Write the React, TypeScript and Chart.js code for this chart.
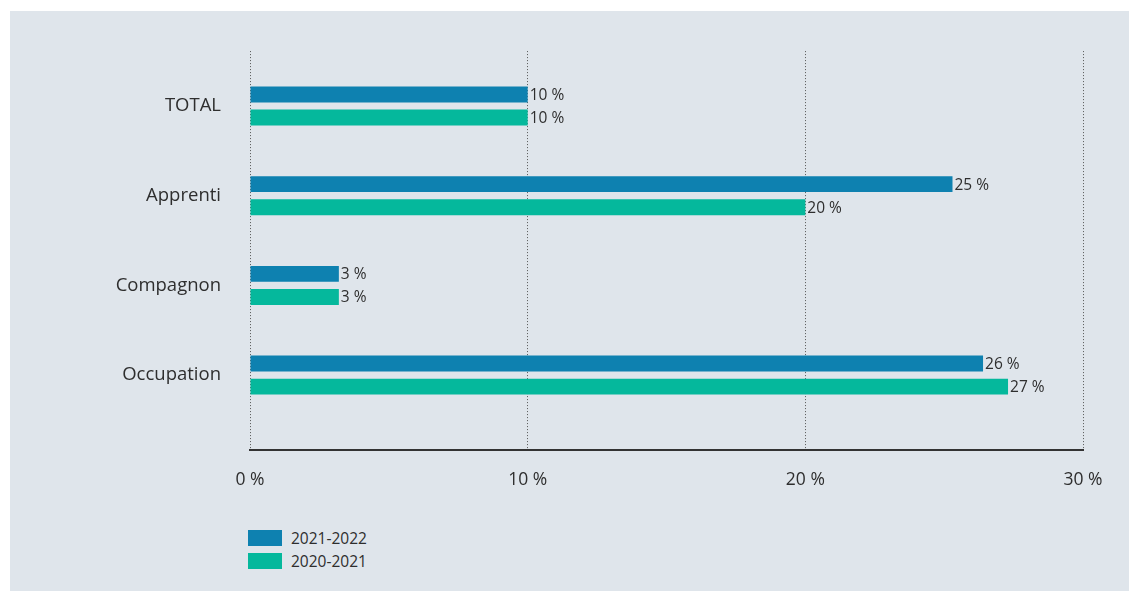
import React, { useEffect, useRef } from 'react'
import { Chart, registerables } from 'chart.js'

Chart.register(...registerables)

const categories = ['TOTAL', 'Apprenti', 'Compagnon', 'Occupation']
const seriesNames = ['2021-2022', '2020-2021']
const values2122 = [10, 25.3, 3.2, 26.4]
const values2021 = [10, 20, 3.2, 27.3]
const seriesColors = ['#0e81b0', '#05b89c']
const xTicks = [0, 10, 20, 30]

const textColor = '#2e2e2e'
const fontFamily = '"Open Sans", Roboto, sans-serif'

const valueLabels = {
  id: 'valueLabels',
  afterDatasetsDraw(chart: Chart) {
    const ctx = chart.ctx
    ctx.save()
    ctx.font = `15.5px ${fontFamily}`
    ctx.fillStyle = textColor
    ctx.textAlign = 'left'
    ctx.textBaseline = 'middle'
    chart.data.datasets.forEach((ds, di) => {
      const meta = chart.getDatasetMeta(di)
      meta.data.forEach((bar: any, i) => {
        const v = (ds.data[i] as any).x
        ctx.fillText(`${Math.round(v)} %`, bar.x + 2, bar.y + 1)
      })
    })
    ctx.restore()
  },
}

const App: React.FC = () => {
  const chartRef = useRef<HTMLCanvasElement | null>(null)

  useEffect(() => {
    if (!chartRef.current) return

    const chart = new Chart(chartRef.current, {
      type: 'bar',
      data: {
        datasets: [values2122, values2021].map((vals, s) => ({
          label: seriesNames[s],
          data: vals.map((v, i) => ({ x: v, y: i })),
          backgroundColor: seriesColors[s],
          borderWidth: 0,
          categoryPercentage: 0.515,
          barPercentage: 0.687,
        })),
      },
      options: {
        indexAxis: 'y',
        responsive: false,
        animation: false,
        events: [],
        layout: { padding: { top: 37, right: 46, left: 0, bottom: 0 } },
        plugins: {
          legend: { display: false },
          tooltip: { enabled: false },
        },
        scales: {
          x: {
            type: 'linear',
            min: 0,
            max: 30,
            afterBuildTicks: (axis: any) => {
              axis.ticks = xTicks.map(v => ({ value: v }))
            },
            afterFit: (axis: any) => {
              axis.height = 50
            },
            ticks: {
              padding: 20,
              color: textColor,
              font: { family: fontFamily, size: 17.5 },
              callback: (v: any) => `${v} %`,
            },
            grid: { color: '#555', lineWidth: 1, drawTicks: false },
            border: { display: true, color: '#333', width: 2, dash: [1, 2] },
          },
          y: {
            type: 'linear',
            reverse: true,
            offset: false,
            min: -0.612,
            max: 3.835,
            afterBuildTicks: (axis: any) => {
              axis.ticks = categories.map((_, i) => ({ value: i }))
            },
            afterFit: (axis: any) => {
              axis.width = 240
            },
            ticks: {
              padding: 29,
              color: textColor,
              font: { family: fontFamily, size: 18.5 },
              callback: (v: any) => categories[v] ?? '',
            },
            grid: { display: false, drawTicks: false },
            border: { display: false },
          },
        },
      },
      plugins: [valueLabels],
    } as any)

    return () => {
      chart.destroy()
    }
  }, [])

  return (
    <div
      style={{
        position: 'absolute',
        left: 10,
        top: 11,
        width: 1119,
        height: 580,
        background: '#dfe5eb',
        fontFamily,
      }}
    >
      <canvas ref={chartRef} width={1119} height={489} style={{ display: 'block' }} />
      <div style={{ position: 'absolute', left: 238, top: 519 }}>
        {seriesNames.map((name, s) => (
          <div
            key={name}
            style={{ display: 'flex', alignItems: 'center', height: 16, marginBottom: 7 }}
          >
            <span
              style={{
                display: 'inline-block',
                width: 34,
                height: 16,
                background: seriesColors[s],
                marginRight: 9,
              }}
            />
            <span style={{ fontSize: 15.5, color: textColor }}>{name}</span>
          </div>
        ))}
      </div>
    </div>
  )
}

export default App
